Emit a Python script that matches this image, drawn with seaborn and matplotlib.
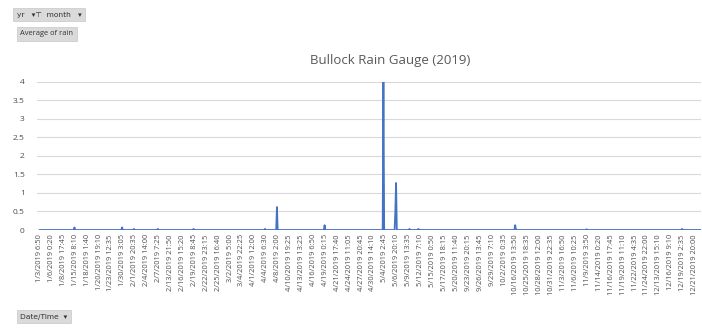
import numpy as np
import pandas as pd
import matplotlib
matplotlib.use('Agg')
import matplotlib.pyplot as plt
import seaborn as sns

# tick labels shown on the category axis (every 16th reading)
tick_labels = [
    '1/3/2019 6:50', '1/6/2019 0:20', '1/8/2019 17:45', '1/15/2019 8:10',
    '1/18/2019 1:40', '1/20/2019 19:10', '1/23/2019 12:35', '1/30/2019 3:05',
    '2/1/2019 20:35', '2/4/2019 14:00', '2/7/2019 7:25', '2/13/2019 21:50',
    '2/16/2019 15:20', '2/19/2019 8:45', '2/22/2019 23:15', '2/25/2019 16:40',
    '3/2/2019 5:00', '3/4/2019 22:25', '4/1/2019 12:00', '4/4/2019 6:30',
    '4/8/2019 2:00', '4/10/2019 19:25', '4/13/2019 13:25', '4/16/2019 6:50',
    '4/19/2019 0:15', '4/21/2019 17:40', '4/24/2019 11:05', '4/27/2019 20:45',
    '4/30/2019 14:10', '5/4/2019 2:45', '5/6/2019 20:10', '5/9/2019 13:35',
    '5/12/2019 7:10', '5/15/2019 0:50', '5/17/2019 18:15', '5/20/2019 11:40',
    '9/23/2019 20:15', '9/26/2019 13:45', '9/29/2019 7:10', '10/2/2019 0:35',
    '10/16/2019 13:50', '10/25/2019 18:35', '10/28/2019 12:00', '10/31/2019 22:35',
    '11/3/2019 16:50', '11/6/2019 10:25', '11/9/2019 3:50', '11/14/2019 0:20',
    '11/16/2019 17:45', '11/19/2019 11:10', '11/22/2019 4:35', '11/24/2019 22:00',
    '12/13/2019 15:10', '12/16/2019 9:10', '12/19/2019 2:35', '12/21/2019 20:00',
]
label_step = 16
n_readings = len(tick_labels) * label_step

# readings that are not zero (reading index -> average rain)
rain_idx = [47, 111, 127, 159, 207, 303, 319, 383, 462, 478, 479, 497, 509, 639, 735, 863]
rain_val = [0.07, 0.07, 0.03, 0.03, 0.03, 0.03, 0.62, 0.13, 4.0, 0.5, 1.27, 0.03, 0.03, 0.13, 0.02, 0.03]

rain = np.zeros(n_readings)
rain[rain_idx] = rain_val
df = pd.DataFrame({'reading': np.arange(n_readings), 'rain': rain})

sns.set_style('white')
plt.rcParams['font.family'] = ['Open Sans', 'DejaVu Sans']

fig = plt.figure(figsize=(7.02, 3.30), dpi=100)
ax = fig.add_axes([0.053, 0.303, 0.945, 0.449])

sns.lineplot(data=df, x='reading', y='rain', ax=ax, color='#4472C4', linewidth=1.3)

ax.set_ylim(0, 4)
ax.set_yticks(np.arange(0, 4.01, 0.5))
ax.set_yticklabels(['0', '0.5', '1', '1.5', '2', '2.5', '3', '3.5', '4'])
ax.set_xlim(-3, n_readings - 8)
ax.set_xticks(np.arange(0, n_readings, label_step))
ax.set_xticklabels(tick_labels, rotation=90)
ax.tick_params(axis='x', labelsize=5.4, colors='#4d4d4d', length=0, pad=3)
ax.tick_params(axis='y', labelsize=6, colors='#4d4d4d', length=0, pad=9)
ax.grid(axis='y', color='#d9d9d9', linewidth=0.8)
ax.set_axisbelow(True)
for s in ax.spines.values():
    s.set_visible(False)
ax.set_xlabel('')
ax.set_ylabel('')

fig.text(0.556, 0.818, 'Bullock Rain Gauge (2019)', ha='center', va='center',
         fontsize=9.5, color='#595959')

# pivot field buttons
btn = dict(boxstyle='square,pad=0.45', facecolor='#dadada', edgecolor='#c8c8c8', linewidth=0.5)
fig.text(0.024, 0.955, 'yr   \u25be\u22a4  month   \u25be', fontsize=5.4, color='#333333',
         va='center', family=['DejaVu Sans'], bbox=btn)
fig.text(0.029, 0.897, 'Average of rain', fontsize=5.4, color='#333333', va='center', bbox=btn)
fig.text(0.029, 0.04, 'Date/Time  \u25be', fontsize=5.4, color='#333333', va='center',
         family=['DejaVu Sans'], bbox=btn)

fig.savefig('out.png', dpi=100)
